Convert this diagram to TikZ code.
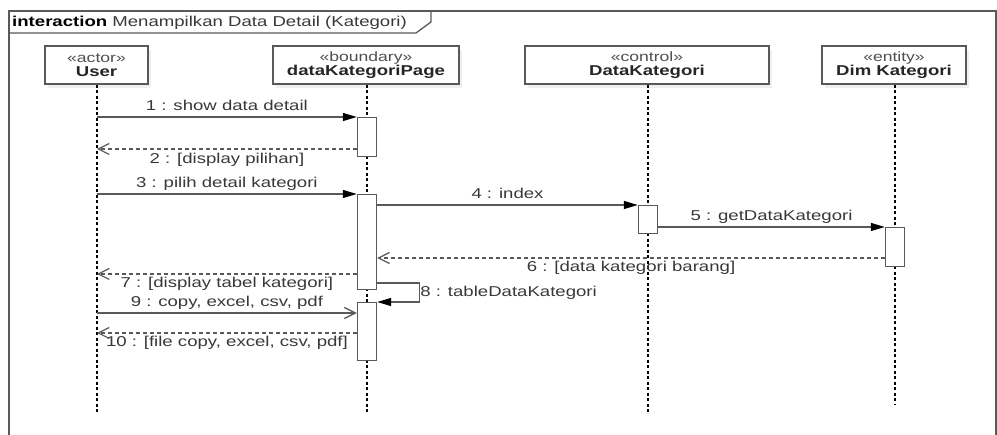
\documentclass[tikz,border=0pt]{standalone}
\usepackage{fontspec}
\setmainfont[FakeStretch=1.3]{Liberation Sans}
\usetikzlibrary{arrows.meta,shadows}
\definecolor{ln}{HTML}{595959}
\definecolor{tx}{HTML}{383838}
\definecolor{st}{HTML}{505050}
\begin{document}
\begin{tikzpicture}[x=1pt,y=-1pt,
  frame/.style={draw=ln, line width=1.3pt},
  head/.style={draw=ln, line width=1.4pt, fill=white, minimum height=38pt, inner sep=0pt,
    align=center, font=\fontsize{13.5}{15}\selectfont, text=st,
    drop shadow={shadow xshift=3pt, shadow yshift=-4pt, fill=black!12}},
  life/.style={draw=black, line width=1.1pt, dash pattern=on 3pt off 2.5pt},
  act/.style={draw=ln, line width=1.4pt, fill=white, minimum width=19pt, inner sep=0pt, anchor=north},
  msg/.style={draw=ln, line width=1.3pt, -{Triangle[length=14pt,width=8pt,color=black,fill=black]}},
  async/.style={draw=ln, line width=1.3pt, -{Straight Barb[length=11pt,width=11pt]}},
  ret/.style={draw=ln, line width=1.2pt, dash pattern=on 4pt off 3pt, -{Straight Barb[length=11pt,width=11pt]}},
  lab/.style={font=\fontsize{14.3}{16}\selectfont, text=tx, inner sep=0pt, anchor=base}
]
\useasboundingbox (0,0) rectangle (997,435);
% frame
\draw[frame] (9,436) -- (9,11) -- (996,11) -- (996,436);
\draw[frame] (9,33) -- (416,33) -- (431,22) -- (431,11);
\node[lab, anchor=base west] (title) at (12,27) {{\bfseries\color{black}interaction} Menampilkan Data Detail (Kategori)};
% heads
\node[head, minimum width=103pt] (u) at (96.5,65) {«actor»\\[-1pt]{\fontsize{14.3}{15}\selectfont\bfseries\color{black!85}User}};
\node[head, minimum width=186pt] (p) at (366,65) {«boundary»\\[-1pt]{\fontsize{14.3}{15}\selectfont\bfseries\color{black!85}dataKategoriPage}};
\node[head, minimum width=244pt] (c) at (647,65) {«control»\\[-1pt]{\fontsize{14.3}{15}\selectfont\bfseries\color{black!85}DataKategori}};
\node[head, minimum width=144pt] (e) at (894,65) {«entity»\\[-1pt]{\fontsize{14.3}{15}\selectfont\bfseries\color{black!85}Dim Kategori}};
% lifeline ends
\coordinate (uend) at (97,413);
\coordinate (pend) at (367,413);
\coordinate (cend) at (648,413);
\coordinate (eend) at (895,404);
\draw[life] (u.south -| uend) -- (uend);
\draw[life] (p.south -| pend) -- (pend);
\draw[life] (c.south -| cend) -- (cend);
\draw[life] (e.south -| eend) -- (eend);
% activations
\node[act, minimum height=39pt] (a1) at (367,117) {};
\node[act, minimum height=95pt] (a2) at (367,194) {};
\node[act, minimum height=28pt] (a3) at (648,205) {};
\node[act, minimum height=39pt] (a4) at (895,227) {};
\node[act, minimum height=58pt] (a5) at (367,302) {};
% messages
\draw[msg] (uend |- a1.north west) -- (a1.north west)
  node[lab, midway, yshift=6pt] {1 : show data detail};
\draw[ret] ([yshift=-32pt]a1.north west) -- ([yshift=-32pt]a1.north west -| uend)
  node[lab, midway, yshift=-15pt] {2 : [display pilihan]};
\draw[msg] (uend |- a2.north west) -- (a2.north west)
  node[lab, midway, yshift=6pt] {3 : pilih detail kategori};
\draw[msg] (a2.east |- a3.north west) -- (a3.north west)
  node[lab, midway, yshift=6pt] {4 : index};
\draw[msg] (a3.east |- a4.north west) -- (a4.north west)
  node[lab, midway, yshift=6pt] {5 : getDataKategori};
\draw[ret] ([yshift=-31pt]a4.north west) -- ([yshift=-31pt]a4.north west -| a2.east)
  node[lab, midway, yshift=-14pt] {6 : [data kategori barang]};
\draw[ret] ([yshift=-80pt]a2.north west) -- ([yshift=-80pt]a2.north west -| uend)
  node[lab, midway, yshift=-14pt] {7 : [display tabel kategori]};
\draw[msg] ([yshift=-89pt]a2.north east) -- ++(42,0) coordinate (s8) |- (a5.north east);
\node[lab, anchor=base west] (l8) at ([xshift=1pt,yshift=-14pt]s8) {8 : tableDataKategori};
\draw[async] (uend |- 0,313) -- (a5.west |- 0,313)
  node[lab, midway, yshift=6pt] {9 : copy, excel, csv, pdf};
\draw[ret] ([yshift=-31pt]a5.north west) -- ([yshift=-31pt]a5.north west -| uend)
  node[lab, midway, yshift=-14pt] {10 : [file copy, excel, csv, pdf]};
\end{tikzpicture}
\end{document}
